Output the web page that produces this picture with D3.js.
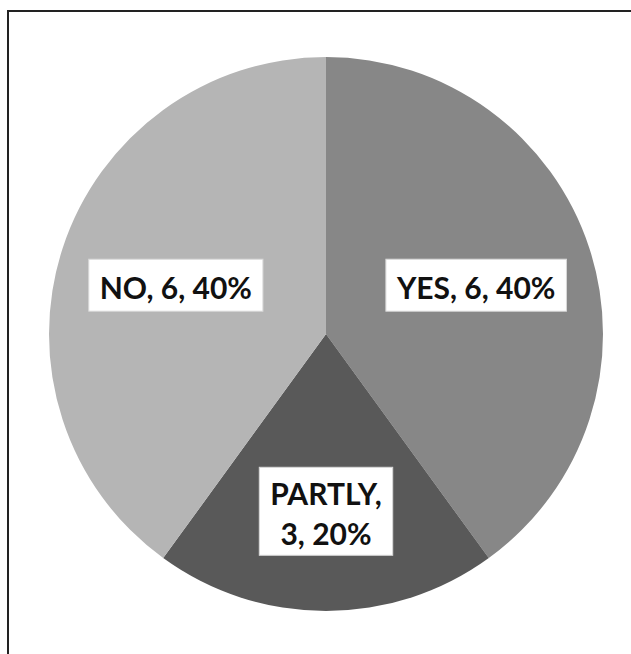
<!DOCTYPE html>
<html>
<head>
<meta charset="utf-8">
<script src="https://cdn.jsdelivr.net/npm/d3@7/dist/d3.min.js"></script>
<style>
  html, body { margin: 0; padding: 0; background: #fff; }
  svg { display: block; }
</style>
</head>
<body>
<svg id="chart" width="631" height="654"></svg>
<script>
// Data
const categories = ["YES", "PARTLY", "NO"];
const values = [6, 3, 6];
const percents = ["40%", "20%", "40%"];
const colors = ["#878787", "#595959", "#b5b5b5"];

const svg = d3.select("#chart");
const W = 631, H = 654;

// frame
svg.append("rect")
  .attr("x", 8).attr("y", 11)
  .attr("width", 700).attr("height", 700)
  .attr("fill", "none")
  .attr("stroke", "#222")
  .attr("stroke-width", 2);

const cx = 326, cy = 334, R = 277;
const g = svg.append("g").attr("transform", `translate(${cx},${cy})`);

const data = categories.map((c, i) => ({ cat: c, value: values[i], pct: percents[i], color: colors[i] }));

const pie = d3.pie().value(d => d.value).sort(null);
const arcs = pie(data);
const arc = d3.arc().innerRadius(0).outerRadius(R);

g.selectAll("path.slice")
  .data(arcs)
  .enter().append("path")
  .attr("class", "slice")
  .attr("d", arc)
  .attr("fill", d => d.data.color);

// labels
const fontFamily = "Lato, 'Open Sans', sans-serif";
const fontSize = 30;
const lineH = 40;

arcs.forEach(d => {
  const twoLine = d.data.cat === "PARTLY";
  const lr = twoLine ? R * 0.64 : R * 0.57;
  const la = d3.arc().innerRadius(lr).outerRadius(lr);
  const [lx, ly] = la.centroid(d);
  const lines = twoLine
    ? [`${d.data.cat},`, `${d.data.value}, ${d.data.pct}`]
    : [`${d.data.cat}, ${d.data.value}, ${d.data.pct}`];
  const lg = g.append("g").attr("transform", `translate(${lx},${ly})`);
  const box = lg.append("rect").attr("fill", "#fff").attr("stroke", "#d8d8d8").attr("stroke-width", 1);
  const n = lines.length;
  const texts = lines.map((t, i) => lg.append("text")
    .attr("x", 0)
    .attr("y", (i - (n - 1) / 2) * lineH + 14)
    .attr("text-anchor", "middle")
    .attr("font-family", fontFamily)
    .attr("font-weight", 700)
    .attr("font-size", fontSize)
    .attr("fill", "#111")
    .text(t));
  const maxW = d3.max(texts, t => t.node().getComputedTextLength());
  const bw = maxW + 22;
  const bh = twoLine ? 88 : 52;
  box.attr("x", -bw / 2).attr("y", -bh / 2).attr("width", bw).attr("height", bh);
});
</script>
</body>
</html>
